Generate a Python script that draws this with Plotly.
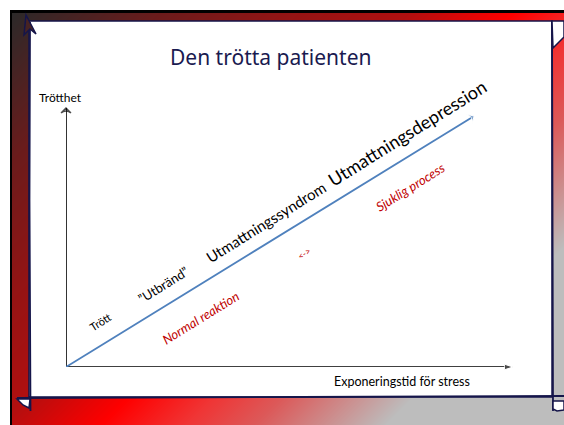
import base64
import struct
import zlib

import numpy as np
import plotly.graph_objects as go

# ---------------- data ----------------
title_text = "Den trötta patienten"
y_axis_label = "Trötthet"
x_axis_label = "Exponeringstid för stress"

# main trend arrow (data units, axes 0..100)
trend_x = [0, 91.3]
trend_y = [0, 96.9]

# stage labels along the trend
stage_labels = ["Trött", "”Utbränd”", "Utmattningssyndrom", "Utmattningsdepression"]
stage_x = [7.8, 21.7, 44.7, 76.3]
stage_y = [17.4, 31.7, 56.0, 90.3]
stage_sizes = [11, 13, 15, 18]

# process labels (red, italic) below the trend
process_labels = ["Normal reaktion", "&lt;-&gt;", "Sjuklig process"]
process_x = [30.0, 53.2, 77.0]
process_y = [18.9, 44.0, 69.6]
process_sizes = [13, 9, 13]

W, H = 564, 425
BODY_FONT = "Lato"
NAVY = "#15154a"


# ---------------- background frame image ----------------
def make_png(arr):
    h, w, _ = arr.shape
    raw = b"".join(b"\x00" + arr[i].tobytes() for i in range(h))

    def chunk(tag, data):
        c = struct.pack(">I", len(data)) + tag + data
        return c + struct.pack(">I", zlib.crc32(tag + data) & 0xFFFFFFFF)

    return (b"\x89PNG\r\n\x1a\n"
            + chunk(b"IHDR", struct.pack(">IIBBBBB", w, h, 8, 2, 0, 0, 0))
            + chunk(b"IDAT", zlib.compress(raw, 9))
            + chunk(b"IEND", b""))


stops_t = [20, 170, 310, 420, 525, 610, 680, 750, 810, 2000]
stops_c = [(42, 42, 42), (106, 28, 28), (149, 20, 20), (176, 16, 16), (255, 0, 0),
           (240, 53, 53), (220, 90, 90), (204, 143, 143), (189, 189, 189), (189, 189, 189)]
yy, xx = np.mgrid[0:H, 0:W]
t = (xx + yy).astype(float)
img = np.zeros((H, W, 3), dtype=np.uint8)
for ch in range(3):
    img[..., ch] = np.interp(t, stops_t, [c[ch] for c in stops_c]).astype(np.uint8)
img[:10, :, :] = 255
img[:, :10, :] = 255
img[10:13, 10:, :] = 0
img[10:, 10:12, :] = 0
src = "data:image/png;base64," + base64.b64encode(make_png(img)).decode()


def px(x):
    return x / W


def py(y):
    return 1 - y / H


def path(points, close=False):
    s = "M " + " L ".join(f"{px(x):.5f},{py(y):.5f}" for x, y in points)
    return s + (" Z" if close else "")


fig = go.Figure()

# axes (black arrows)
fig.add_trace(go.Scatter(x=[0, 100], y=[0, 0], mode="lines+markers", cliponaxis=False,
                         line=dict(color="black", width=1.6),
                         marker=dict(symbol="arrow", size=[0, 9], angleref="previous", color="black"),
                         hoverinfo="skip"))
fig.add_trace(go.Scatter(x=[0, 0], y=[0, 100], mode="lines+markers", cliponaxis=False,
                         line=dict(color="black", width=1.6),
                         marker=dict(symbol="arrow-wide-open", size=[0, 7], angleref="previous",
                                     color="black", line=dict(color="black", width=1.5)),
                         hoverinfo="skip"))
# trend arrow
fig.add_trace(go.Scatter(x=trend_x, y=trend_y, mode="lines+markers", cliponaxis=False,
                         line=dict(color="#4f81bd", width=1.8),
                         marker=dict(symbol="arrow-wide", size=[0, 8], angleref="previous", color="#4f81bd"),
                         hoverinfo="skip"))

shapes = [
    # white panel
    dict(type="rect", xref="paper", yref="paper", x0=px(29), x1=px(552), y0=py(397), y1=py(21),
         fillcolor="white", line=dict(color=NAVY, width=1.5), layer="below"),
    # hand-drawn extensions
    dict(type="path", xref="paper", yref="paper", path=path([(30, 22), (29.5, 200), (30.5, 411)]),
         line=dict(color=NAVY, width=1.8), layer="below"),
    dict(type="path", xref="paper", yref="paper", path=path([(17, 398), (300, 397), (564, 396)]),
         line=dict(color=NAVY, width=1.8), layer="below"),
    dict(type="path", xref="paper", yref="paper", path=path([(552, 21), (552.5, 200), (553, 411)]),
         line=dict(color=NAVY, width=1.8), layer="below"),
    # curls
    dict(type="path", xref="paper", yref="paper",
         path=path([(17, 399), (30, 399), (29, 408), (23, 405)], close=True),
         fillcolor="white", line=dict(color=NAVY, width=1.5), layer="below"),
    dict(type="path", xref="paper", yref="paper",
         path=path([(553, 401), (553, 409), (557, 411), (564, 410), (564, 401)], close=True),
         fillcolor="white", line=dict(color=NAVY, width=1.5), layer="below"),
    dict(type="path", xref="paper", yref="paper",
         path=path([(552, 21), (553, 48), (564, 37), (564, 21)], close=True),
         fillcolor="white", line=dict(color=NAVY, width=1.5), layer="below"),
    dict(type="path", xref="paper", yref="paper",
         path=path([(24, 35), (26, 15), (36, 34), (30, 29)], close=True),
         fillcolor="rgba(70,35,35,1)", line=dict(color=NAVY, width=1.5), layer="below"),
]

annotations = [
    dict(text=title_text, xref="paper", yref="paper", x=px(270), y=py(57), showarrow=False,
         font=dict(family="Noto Sans", size=21, color="#1a1a50"), xanchor="center", yanchor="middle"),
    dict(text=y_axis_label, xref="paper", yref="paper", x=px(60), y=py(97), showarrow=False,
         font=dict(family=BODY_FONT, size=12, color="black"), xanchor="center", yanchor="middle"),
    dict(text=x_axis_label, xref="paper", yref="paper", x=px(402), y=py(381), showarrow=False,
         font=dict(family=BODY_FONT, size=12.5, color="black"), xanchor="center", yanchor="middle"),
]
for lbl, x, y, s in zip(stage_labels, stage_x, stage_y, stage_sizes):
    annotations.append(dict(text=lbl, xref="x", yref="y", x=x, y=y, showarrow=False, textangle=-32,
                            font=dict(family=BODY_FONT, size=s, color="black"),
                            xanchor="center", yanchor="middle"))
for lbl, x, y, s in zip(process_labels, process_x, process_y, process_sizes):
    annotations.append(dict(text=f"<i>{lbl}</i>", xref="x", yref="y", x=x, y=y, showarrow=False,
                            textangle=-32, font=dict(family=BODY_FONT, size=s, color="#c00000"),
                            xanchor="center", yanchor="middle"))

fig.update_layout(
    width=W, height=H, margin=dict(l=0, r=0, t=0, b=0),
    paper_bgcolor="white", plot_bgcolor="rgba(0,0,0,0)",
    showlegend=False,
    xaxis=dict(visible=False, range=[0, 100], domain=[px(66), px(513)], fixedrange=True),
    yaxis=dict(visible=False, range=[0, 100], domain=[py(367), py(108)], fixedrange=True),
    images=[dict(source=src, xref="paper", yref="paper", x=0, y=1, sizex=1, sizey=1,
                 xanchor="left", yanchor="top", sizing="stretch", layer="below")],
    shapes=shapes,
    annotations=annotations,
)

fig.write_html("out.html", config=dict(displayModeBar=False),
               post_script="document.body.style.margin='0';document.body.style.overflow='hidden';")
